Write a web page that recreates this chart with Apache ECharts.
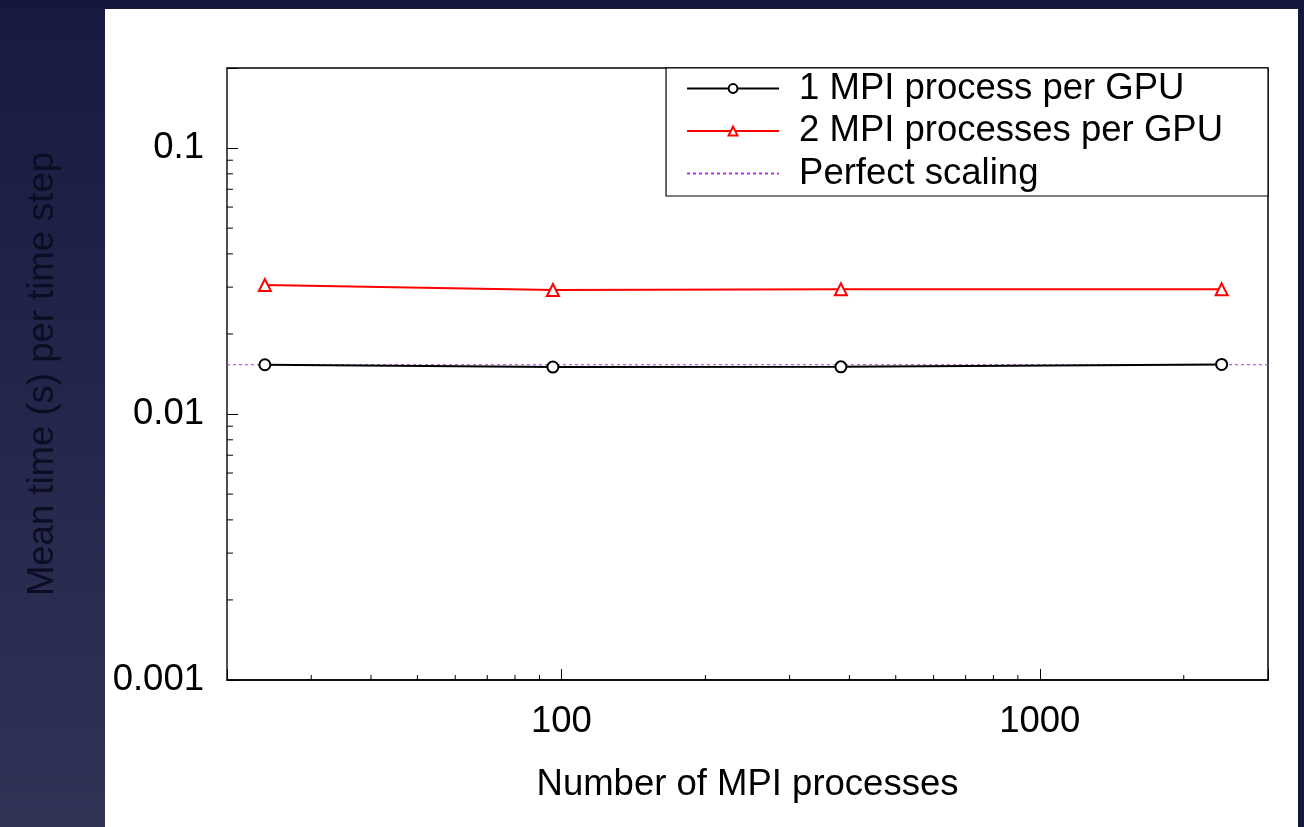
<!DOCTYPE html>
<html>
<head>
<meta charset="utf-8">
<title>Mean time per time step</title>
<script src="https://cdn.jsdelivr.net/npm/echarts@6/dist/echarts.min.js"></script>
<style>
  html, body { margin: 0; padding: 0; background: #15173c; }
  #main { width: 1304px; height: 827px; }
</style>
</head>
<body>
<div id="main"></div>
<script>
// MPI process counts (x) and mean time per step (y, seconds)
const processes = [24, 96, 384, 2400];
const onePerGpu = [0.01532, 0.01502, 0.01505, 0.01536];
const twoPerGpu = [0.03055, 0.02925, 0.02943, 0.02943];
const perfectX = [20, 3000];
const perfectY = [0.01532, 0.01532];

// minor tick positions for the log axes
const xMinorTicks = [30, 40, 50, 60, 70, 80, 90, 200, 300, 400, 500, 600, 700, 800, 900, 2000];
const yMinorTicks = [0.002, 0.003, 0.004, 0.005, 0.006, 0.007, 0.008, 0.009,
                     0.02, 0.03, 0.04, 0.05, 0.06, 0.07, 0.08, 0.09];

const font = "'Liberation Sans', Arial, Helvetica, sans-serif";
const fontSize = 36.5;

const chart = echarts.init(document.getElementById("main"), null, { renderer: "canvas" });

function isPow10(v) {
  const l = Math.log10(v);
  return Math.abs(l - Math.round(l)) < 1e-6;
}
function powLabel(v) {
  if (!isPow10(v)) return "";
  return String(Number(v.toPrecision(6)));
}

const axisLabel = {
  fontFamily: font,
  fontSize: fontSize,
  color: "#000",
  margin: 23,
  formatter: powLabel,
};

const options = {
  backgroundColor: "#15173c",
  animation: false,
  graphic: [
    {
      type: "rect",
      z: -10,
      shape: { x: 0, y: 9, width: 105, height: 818 },
      style: {
        fill: new echarts.graphic.LinearGradient(0, 0, 0, 1, [
          { offset: 0, color: "#181a40" },
          { offset: 1, color: "#303356" },
        ]),
      },
    },
    {
      type: "rect",
      z: -10,
      shape: { x: 105, y: 9, width: 1193, height: 818 },
      style: { fill: "#ffffff" },
    },
  ],
  grid: {
    left: 227,
    right: 36,
    top: 68,
    bottom: 147,
    show: true,
    borderColor: "#000",
    borderWidth: 1.5,
    backgroundColor: "transparent",
  },
  legend: {
    right: 36,
    top: 68,
    orient: "vertical",
    backgroundColor: "#fff",
    borderColor: "#000",
    borderWidth: 1.2,
    borderRadius: 0,
    padding: [2, 45, 4, 20],
    itemWidth: 92,
    itemHeight: 11,
    itemGap: 5.5,
    textStyle: {
      fontFamily: font,
      fontSize: fontSize,
      color: "#000",
      padding: [0, 0, 0, 15],
      lineHeight: 37,
    },
    data: [
      "1 MPI process per GPU",
      "2 MPI processes per GPU",
      { name: "Perfect scaling", itemStyle: { opacity: 0 } },
    ],
  },
  xAxis: {
    type: "log",
    logBase: 10,
    min: 20,
    max: 3000,
    name: "Number of MPI processes",
    nameLocation: "middle",
    nameGap: 86,
    nameTextStyle: { fontFamily: font, fontSize: fontSize, color: "#000" },
    axisLine: { show: true, lineStyle: { color: "#000", width: 1.5 } },
    axisTick: { show: true, inside: true, length: 11, lineStyle: { color: "#000", width: 1 } },
    splitLine: { show: false },
    axisLabel,
  },
  yAxis: {
    type: "log",
    logBase: 10,
    min: 0.001,
    max: 0.2,
    name: "Mean time (s) per time step",
    nameLocation: "middle",
    nameGap: 166,
    nameTextStyle: { fontFamily: font, fontSize: fontSize, color: "#0c0d22" },
    axisLine: { show: true, lineStyle: { color: "#555", width: 1.5 } },
    axisTick: { show: true, inside: true, length: 11, lineStyle: { color: "#000", width: 1 } },
    splitLine: { show: false },
    axisLabel,
  },
  series: [
    {
      name: "1 MPI process per GPU",
      type: "line",
      data: processes.map((x, i) => [x, onePerGpu[i]]),
      symbol: "emptyCircle",
      symbolSize: 11,
      lineStyle: { color: "#000", width: 2 },
      itemStyle: { color: "#000", borderWidth: 2 },
      z: 4,
    },
    {
      name: "2 MPI processes per GPU",
      type: "line",
      data: processes.map((x, i) => [x, twoPerGpu[i]]),
      symbol: "emptyTriangle",
      symbolSize: 12,
      lineStyle: { color: "#ff0000", width: 2 },
      itemStyle: { color: "#ff0000", borderWidth: 2 },
      z: 4,
    },
    {
      name: "Perfect scaling",
      type: "line",
      data: perfectX.map((x, i) => [x, perfectY[i]]),
      symbol: "none",
      lineStyle: { color: "#b030f0", width: 1, type: [3, 3] },
      itemStyle: { color: "#b030f0" },
      z: 3,
    },
    {
      // minor ticks along the bottom axis
      type: "custom",
      silent: true,
      data: xMinorTicks.map((v) => [v, 0.001]),
      renderItem: function (params, api) {
        const p = api.coord([api.value(0), api.value(1)]);
        return {
          type: "line",
          shape: { x1: p[0], y1: p[1], x2: p[0], y2: p[1] - 5 },
          style: { stroke: "#000", lineWidth: 1 },
        };
      },
    },
    {
      // minor ticks along the left axis
      type: "custom",
      silent: true,
      data: yMinorTicks.map((v) => [20, v]),
      renderItem: function (params, api) {
        const p = api.coord([api.value(0), api.value(1)]);
        return {
          type: "line",
          shape: { x1: p[0], y1: p[1], x2: p[0] + 6, y2: p[1] },
          style: { stroke: "#000", lineWidth: 1 },
        };
      },
    },
  ],
};

chart.setOption(options);
</script>
</body>
</html>
